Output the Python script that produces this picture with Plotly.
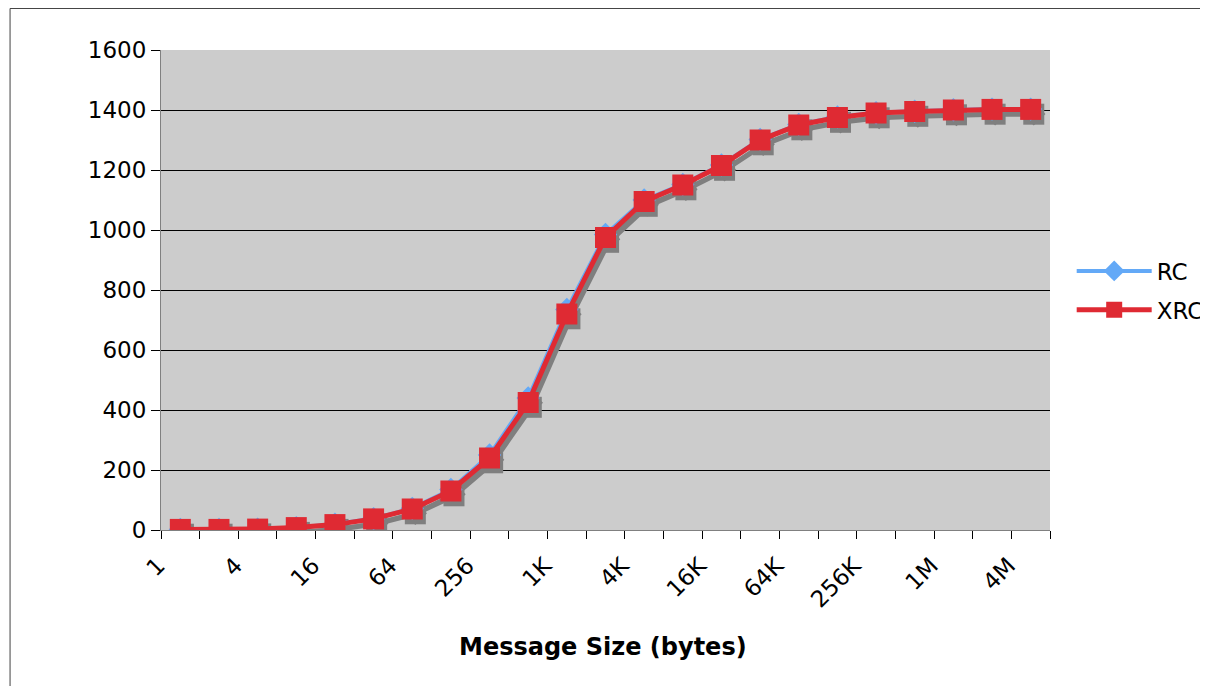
import plotly.graph_objects as go

sizes = ["1", "2", "4", "8", "16", "32", "64", "128", "256", "512", "1K", "2K",
         "4K", "8K", "16K", "32K", "64K", "128K", "256K", "512K", "1M", "2M", "4M"]
rc = [2, 2, 3, 8, 19, 38, 72, 135, 250, 440, 735, 985, 1100, 1152, 1217, 1302,
      1352, 1377, 1391, 1396, 1401, 1403, 1403]
xrc = [2, 2, 3, 8, 18, 37, 70, 130, 240, 425, 720, 975, 1095, 1150, 1215, 1300,
       1350, 1375, 1390, 1395, 1400, 1402, 1402]
tick_text = [s if i % 2 == 0 else "" for i, s in enumerate(sizes)]

BLUE = "#63a9f7"
RED = "#df2a33"
SHADOW = "#7f7f7f"
FONT = "DejaVu Sans"

n = len(sizes)
xr = [-0.5, n - 0.5]
yr = [0, 1600]
dx = 0.08   # shadow offset in category units (~3px)
dy = 16     # shadow offset in data units (~5px)

fig = go.Figure()

# invisible anchor trace so the base axes are drawn
fig.add_trace(go.Scatter(x=sizes, y=xrc, mode="lines", line=dict(width=0),
                         opacity=0, showlegend=False, hoverinfo="skip"))
# shadows
fig.add_trace(go.Scatter(x=sizes, y=rc, xaxis="x2", yaxis="y2", mode="lines+markers",
                         line=dict(color=SHADOW, width=4),
                         marker=dict(symbol="diamond", size=18, color=SHADOW),
                         showlegend=False, hoverinfo="skip"))
fig.add_trace(go.Scatter(x=sizes, y=xrc, xaxis="x2", yaxis="y2", mode="lines+markers",
                         line=dict(color=SHADOW, width=5),
                         marker=dict(symbol="square", size=21, color=SHADOW),
                         showlegend=False, hoverinfo="skip"))
# series
fig.add_trace(go.Scatter(x=sizes, y=rc, xaxis="x3", yaxis="y3", name="RC",
                         mode="lines+markers", legendgroup="a",
                         line=dict(color=BLUE, width=4),
                         marker=dict(symbol="diamond", size=18, color=BLUE)))
fig.add_trace(go.Scatter(x=sizes, y=xrc, xaxis="x3", yaxis="y3", name="XRC",
                         mode="lines+markers", legendgroup="b",
                         line=dict(color=RED, width=5),
                         marker=dict(symbol="square", size=21, color=RED)))

hidden = dict(visible=False, fixedrange=True)
border = dict(color="#404040", width=1)
fig.update_layout(
    width=1200, height=678,
    margin=dict(l=153, r=158, t=42, b=156, autoexpand=False),
    paper_bgcolor="white",
    plot_bgcolor="#cccccc",
    font=dict(family=FONT, size=23, color="black"),
    xaxis=dict(visible=True, type="category", categoryorder="array", categoryarray=sizes,
               range=xr, tickmode="array", tickvals=sizes, ticktext=tick_text,
               tickson="boundaries", ticks="outside", ticklen=8, tickcolor="black",
               tickangle=-45, ticklabelshift=-22, ticklabelstandoff=12,
               showgrid=False, showline=True, linecolor="#808080",
               linewidth=1, tickfont=dict(size=23), fixedrange=True, automargin=False),
    yaxis=dict(visible=True, range=yr, tickmode="linear", tick0=0, dtick=200,
               ticks="outside", ticklen=9, tickcolor="black", showgrid=True,
               gridcolor="black", gridwidth=1, showline=True, linecolor="#808080",
               linewidth=1, zeroline=False, tickfont=dict(size=23), fixedrange=True,
               automargin=False),
    xaxis2=dict(type="category", categoryorder="array", categoryarray=sizes,
                range=[xr[0] - dx, xr[1] - dx], overlaying="x", **hidden),
    yaxis2=dict(range=[yr[0] + dy, yr[1] + dy], overlaying="y", **hidden),
    xaxis3=dict(type="category", categoryorder="array", categoryarray=sizes,
                range=xr, overlaying="x", **hidden),
    yaxis3=dict(range=yr, overlaying="y", **hidden),
    legend=dict(x=1.0244, y=0.499, xanchor="left", yanchor="middle", itemwidth=75,
                font=dict(size=23), tracegroupgap=6, bgcolor="rgba(0,0,0,0)"),
    annotations=[dict(text="<b>Message Size (bytes)</b>", xref="paper", yref="paper",
                      x=0.497, y=-0.244, xanchor="center", yanchor="middle",
                      showarrow=False, font=dict(size=24))],
    shapes=[
        dict(type="line", xref="paper", yref="paper", x0=-0.1698, x1=1.3,
             y0=1.0865, y1=1.0865, line=border, layer="below"),
        dict(type="line", xref="paper", yref="paper", x0=-0.1698, x1=-0.1698,
             y0=-0.5, y1=1.0865, line=border, layer="below"),
    ],
)

fig.write_html("out.html", config={"displayModeBar": False})
